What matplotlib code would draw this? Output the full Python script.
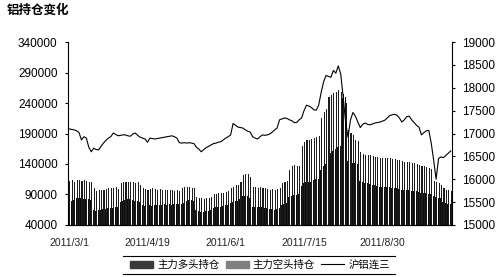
import numpy as np
import matplotlib
matplotlib.use("Agg")
import matplotlib.pyplot as plt
from matplotlib.lines import Line2D

plt.rcParams["font.family"] = ["Liberation Sans", "Noto Sans CJK SC", "DejaVu Sans"]
plt.rcParams["font.size"] = 8

# x axis tick labels (category axis, one label every 32 trading days)
tick_labels = ["2011/3/1", "2011/4/19", "2011/6/1", "2011/7/15", "2011/8/30"]
tick_pos = [0, 32, 64, 96, 128]

# 主力多头持仓
long_pos = [80000, 79000, 81000, 84000, 85000, 84000, 83000, 82000, 83000, 81000,
            64000, 63000, 64000, 65000, 66000, 66000, 67000, 68000, 68000, 69000,
            70000, 78000, 80000, 81000, 82000, 82000, 81000, 80000, 79000, 77000,
            72000, 71000, 71000, 72000, 71000, 72000, 73000, 72000, 73000, 74000,
            73000, 74000, 73000, 74000, 74000, 75000, 75000, 76000, 80000, 81000,
            81000, 80000, 64000, 63000, 62000, 62000, 63000, 63000, 64000, 68000,
            69000, 70000, 70000, 71000, 72000, 73000, 76000, 78000, 79000, 80000,
            82000, 87000, 88000, 87000, 85000, 70000, 69000, 70000, 69000, 70000,
            68000, 67000, 66000, 66000, 65000, 66000, 67000, 72000, 74000, 76000,
            86000, 88000, 89000, 89000, 90000, 104000, 108000, 110000, 110000, 111000,
            113000, 115000, 116000, 130000, 136000, 140000, 152000, 158000, 162000, 165000,
            168000, 170000, 248000, 250000, 145000, 143000, 142000, 141000, 140000, 112000,
            110000, 109000, 108000, 107000, 106000, 105000, 104000, 103000, 103000, 102000,
            102000, 102000, 101000, 100000, 100000, 99000, 98000, 98000, 97000, 97000,
            96000, 96000, 95000, 94000, 93000, 92000, 92000, 91000, 90000, 88000,
            86000, 85000, 84000, 78000, 76000, 75000, 74000]

# 主力空头持仓
short_pos = [112000, 113000, 111000, 114000, 113000, 112000, 113000, 112000, 111000, 110000,
             100000, 96000, 97000, 98000, 97000, 99000, 100000, 101000, 100000, 102000,
             99000, 108000, 110000, 111000, 110000, 111000, 110000, 109000, 110000, 106000,
             100000, 99000, 98000, 99000, 100000, 99000, 98000, 99000, 97000, 98000,
             97000, 98000, 97000, 96000, 97000, 96000, 100000, 102000, 103000, 102000,
             101000, 100000, 86000, 85000, 84000, 83000, 84000, 85000, 86000, 90000,
             91000, 92000, 93000, 92000, 94000, 96000, 100000, 103000, 105000, 106000,
             110000, 122000, 124000, 123000, 118000, 103000, 102000, 101000, 102000, 100000,
             101000, 99000, 98000, 99000, 98000, 99000, 100000, 108000, 110000, 112000,
             130000, 136000, 138000, 137000, 136000, 170000, 176000, 179000, 180000, 181000,
             183000, 185000, 186000, 215000, 225000, 230000, 250000, 254000, 256000, 258000,
             262000, 258000, 255000, 240000, 196000, 191000, 188000, 180000, 177000, 160000,
             157000, 155000, 154000, 155000, 153000, 152000, 151000, 150000, 150000, 149000,
             150000, 149000, 148000, 148000, 147000, 146000, 145000, 144000, 143000, 143000,
             142000, 141000, 140000, 138000, 137000, 136000, 135000, 134000, 132000, 112000,
             110000, 108000, 106000, 100000, 98000, 97000, 95000]

# 沪铝连三
price = [17100, 17090, 17080, 17060, 17020, 16860, 16930, 16900, 16700, 16600,
         16680, 16650, 16640, 16720, 16790, 16850, 16900, 16930, 17010, 16980,
         16950, 16960, 16970, 16970, 16950, 16940, 16990, 17010, 16960, 16920,
         16900, 16880, 16810, 16900, 16890, 16880, 16890, 16900, 16910, 16920,
         16930, 16940, 16950, 16930, 16900, 16800, 16790, 16800, 16790, 16800,
         16790, 16780, 16700, 16660, 16600, 16650, 16690, 16720, 16750, 16780,
         16790, 16810, 16820, 16860, 16900, 16930, 16970, 17220, 17180, 17140,
         17130, 17120, 17080, 17050, 17030, 16930, 16900, 16880, 16930, 16970,
         16960, 16970, 16990, 17030, 17080, 17120, 17300, 17320, 17340, 17330,
         17300, 17280, 17240, 17240, 17300, 17340, 17500, 17620, 17600, 17570,
         17520, 17510, 17620, 17900, 18130, 18270, 18250, 18230, 18380, 18320,
         18480, 18300, 17800, 17250, 16920, 17300, 17460, 17380, 17250, 17130,
         17200, 17230, 17200, 17190, 17210, 17230, 17240, 17250, 17270, 17290,
         17340, 17390, 17410, 17420, 17400, 17340, 17250, 17300, 17370, 17380,
         17300, 17240, 17180, 17140, 16970, 17020, 17060, 17070, 16790, 16420,
         16000, 16450, 16490, 16470, 16520, 16570, 16620]

x = np.arange(len(price))
# the bars are so thin that they print almost black, the legend keeps the greys
long_color = "#0d0d0d"
short_color = "#1c1c1c"

fig = plt.figure(figsize=(5, 2.77), dpi=100)
ax = fig.add_axes([0.136, 0.188, 0.768, 0.660])

ax.bar(x - 0.2, long_pos, width=0.4, color=long_color, linewidth=0)
ax.bar(x + 0.22, short_pos, width=0.44, color=short_color, linewidth=0)
ax.set_xlim(-0.5, len(price) - 0.5)
ax.set_ylim(40000, 340000)
ax.set_yticks(np.arange(40000, 340001, 50000))
ax.set_xticks(tick_pos)
ax.set_xticklabels(tick_labels, fontsize=7.5, color="#222222")
ax.tick_params(axis="x", length=0, pad=9.5)
ax.tick_params(axis="y", length=2.5, width=0.8, pad=5, labelsize=8.5)
ax.spines["top"].set_visible(False)
ax.spines["right"].set_visible(False)

ax2 = ax.twinx()
ax2.plot(x, price, color="black", linewidth=0.8)
ax2.set_ylim(15000, 19000)
ax2.set_yticks(np.arange(15000, 19001, 500))
ax2.tick_params(axis="y", length=2.5, width=0.8, pad=5, labelsize=8.5)
ax2.spines["top"].set_visible(False)
ax2.spines["left"].set_visible(False)

fig.text(0.014, 0.962, "铝持仓变化", fontsize=9, fontweight="bold",
         family=["Noto Sans CJK SC", "DejaVu Sans"], va="center", ha="left")

# legend below the chart, with lines above and below it
handles = [plt.Rectangle((0, 0), 1, 1, color="#3a3a3a"),
           plt.Rectangle((0, 0), 1, 1, color="#808080"),
           Line2D([], [], color="black", linewidth=0.8)]
labels = ["主力多头持仓", "主力空头持仓", "沪铝连三"]
fig.legend(handles, labels, loc="center", bbox_to_anchor=(0.52, 0.044), ncol=3,
           frameon=False, handlelength=2.2, handleheight=0.7,
           columnspacing=0.6, handletextpad=0.4,
           prop={"family": ["Noto Sans CJK SC", "DejaVu Sans"], "size": 7.5})
fig.add_artist(Line2D([0.246, 0.79], [0.076, 0.076], color="black", linewidth=0.8))
fig.add_artist(Line2D([0.246, 0.79], [0.011, 0.011], color="black", linewidth=0.8))

plt.savefig("out.png", dpi=100)
